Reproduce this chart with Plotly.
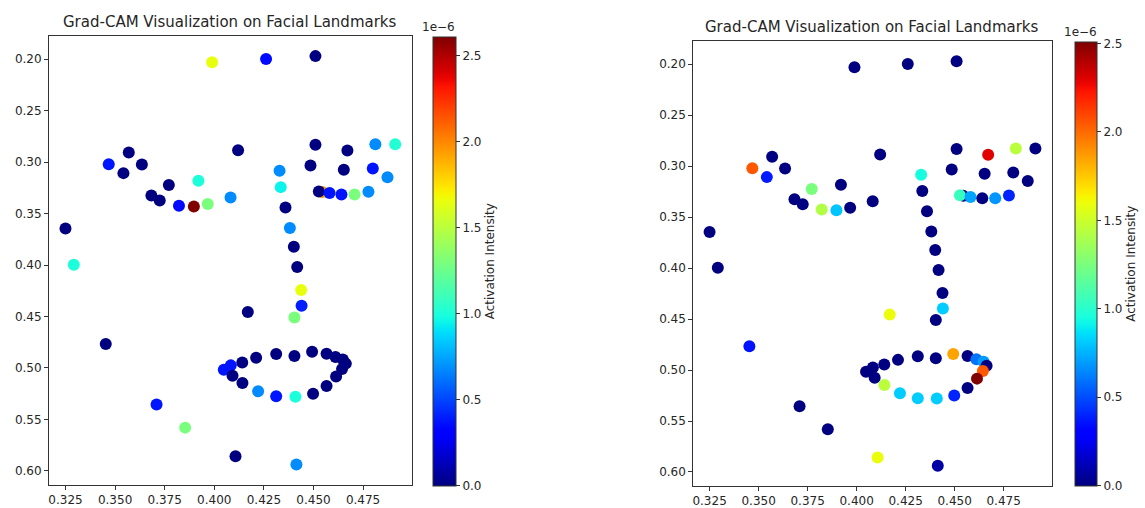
import numpy as np
import plotly.graph_objects as go

# ---- data (landmark positions, normalized) ----
landmark_x = [0.3989, 0.4261, 0.4510, 0.3468, 0.3569, 0.3635, 0.3542, 0.3771, 0.3683, 0.3725,
              0.3822, 0.3897, 0.3967, 0.3920, 0.4082, 0.4120, 0.4329, 0.4335, 0.4359, 0.4381,
              0.4401, 0.4510, 0.4485, 0.4671, 0.4653, 0.4812, 0.4912, 0.4799, 0.4873, 0.4544,
              0.4527, 0.4581, 0.4641, 0.4707, 0.4777, 0.3250, 0.3292, 0.4418, 0.4438, 0.4440,
              0.4404, 0.4169, 0.3453, 0.3709, 0.3853, 0.4107, 0.4414, 0.4048, 0.4083, 0.4141,
              0.4211, 0.4312, 0.4404, 0.4493, 0.4566, 0.4611, 0.4648, 0.4663, 0.4644, 0.4614,
              0.4566, 0.4498, 0.4409, 0.4312, 0.4221, 0.4142, 0.4092]
landmark_y = [0.2029, 0.1997, 0.1970, 0.3020, 0.2907, 0.3023, 0.3107, 0.3223, 0.3324, 0.3373,
              0.3424, 0.3431, 0.3408, 0.3182, 0.3343, 0.2884, 0.3084, 0.3243, 0.3441, 0.3641,
              0.3822, 0.2832, 0.3033, 0.2887, 0.3075, 0.2826, 0.2826, 0.3062, 0.3146, 0.3291,
              0.3285, 0.3301, 0.3315, 0.3315, 0.3288, 0.3645, 0.3997, 0.4019, 0.4243, 0.4395,
              0.4509, 0.4456, 0.4767, 0.5356, 0.5580, 0.5858, 0.5939, 0.5017, 0.4975, 0.4946,
              0.4900, 0.4864, 0.4884, 0.4842, 0.4861, 0.4893, 0.4919, 0.4958, 0.5010, 0.5084,
              0.5175, 0.5250, 0.5279, 0.5276, 0.5227, 0.5146, 0.5075]

# activation intensity, in units of 1e-6
activation_left = [1.65, 0.35, 0.0, 0.38, 0.0, 0.0, 0.0, 0.0, 0.0, 0.0,
                   0.35, 2.61, 1.30, 1.00, 0.68, 0.0, 0.68, 0.95, 0.0, 0.68,
                   0.0, 0.0, 0.0, 0.0, 0.0, 0.68, 1.02, 0.38, 0.68, 1.95,
                   0.0, 0.38, 0.38, 1.30, 0.68, 0.0, 1.00, 0.0, 1.65, 0.40,
                   1.30, 0.0, 0.0, 0.38, 1.30, 0.0, 0.68, 0.38, 0.38, 0.0,
                   0.0, 0.0, 0.0, 0.0, 0.0, 0.0, 0.0, 0.0, 0.0, 0.0,
                   0.0, 0.0, 1.00, 0.38, 0.68, 0.0, 0.0]
activation_right = [0.0, 0.0, 0.0, 2.05, 0.0, 0.0, 0.38, 1.25, 0.0, 0.0,
                    1.42, 0.80, 0.0, 0.0, 0.0, 0.0, 0.95, 0.0, 0.0, 0.0,
                    0.0, 0.0, 0.0, 2.30, 0.0, 1.45, 0.0, 0.0, 0.0, 0.0,
                    1.05, 0.72, 0.0, 0.68, 0.40, 0.0, 0.0, 0.0, 0.0, 0.82,
                    0.0, 1.60, 0.36, 0.0, 0.0, 1.60, 0.08, 0.0, 0.0, 0.0,
                    0.0, 0.0, 0.0, 1.85, 0.0, 0.60, 0.70, 0.0, 2.05, 2.51,
                    0.0, 0.40, 0.82, 0.82, 0.82, 1.45, 0.0]

cbar_ticks = [0.0, 0.5, 1.0, 1.5, 2.0, 2.5]
title_text = "Grad-CAM Visualization on Facial Landmarks"
cbar_title = "Activation Intensity"

# ---- matplotlib 'jet' colorscale ----
def jet_scale(n=64):
    t = np.linspace(0, 1, n)
    r = np.interp(t, [0, 0.35, 0.66, 0.89, 1], [0, 0, 1, 1, 0.5])
    g = np.interp(t, [0, 0.125, 0.375, 0.64, 0.91, 1], [0, 0, 1, 1, 0, 0])
    b = np.interp(t, [0, 0.11, 0.34, 0.65, 1], [0.5, 1, 1, 0, 0])
    return [[float(tt), "rgb(%d,%d,%d)" % (round(rr * 255), round(gg * 255), round(bb * 255))]
            for tt, rr, gg, bb in zip(t, r, g, b)]

JET = jet_scale()
W, H = 1145, 508
FONT = "DejaVu Sans"
TXT = "#262626"
FS = 12

def px_x(p):
    return p / W

def px_y(p):
    return 1 - p / H

# data-limits with matplotlib-like 5% margins
def padded(vals):
    lo, hi = min(vals), max(vals)
    m = (hi - lo) * 0.05
    return lo - m, hi + m

xr = padded(landmark_x)
yr = padded(landmark_y)

panels = [
    dict(vals=activation_left, dom_x=(49, 411.7), dom_y=(35.7, 485), cb_x=433.3, cb_th=23,
         cb_top=36.7, cb_bot=485.7, title_y=22, off_y=27, off_x=438),
    dict(vals=activation_right, dom_x=(693.3, 1051.7), dom_y=(41, 486), cb_x=1075, cb_th=22,
         cb_top=41.7, cb_bot=485.7, title_y=27, off_y=32, off_x=1080),
]

fig = go.Figure()
annotations = []
for i, p in enumerate(panels):
    ax = "" if i == 0 else str(i + 1)
    cb_len = (p["cb_bot"] - p["cb_top"]) / H
    cb_y = px_y((p["cb_top"] + p["cb_bot"]) / 2)
    fig.add_trace(go.Scatter(
        x=landmark_x, y=landmark_y, mode="markers",
        xaxis="x" + ax, yaxis="y" + ax,
        marker=dict(size=12, color=p["vals"], colorscale=JET, cmin=0, cmax=max(p["vals"]),
                    line=dict(width=0), showscale=True,
                    colorbar=dict(x=px_x(p["cb_x"]), xanchor="left", xpad=0, ypad=0,
                                  y=cb_y, yanchor="middle", len=cb_len, lenmode="fraction",
                                  thickness=p["cb_th"], thicknessmode="pixels",
                                  outlinewidth=1, outlinecolor="#333",
                                  tickvals=cbar_ticks, tickformat=".1f",
                                  ticks="outside", ticklen=4, tickcolor="#333",
                                  tickfont=dict(family=FONT, size=FS, color=TXT),
                                  title=dict(text=cbar_title, side="right",
                                             font=dict(family=FONT, size=FS, color=TXT)))),
        showlegend=False, hoverinfo="x+y"))
    xa = dict(domain=[px_x(p["dom_x"][0]), px_x(p["dom_x"][1])], range=list(xr),
              anchor="y" + ax, tick0=0.325, dtick=0.025, tickformat=".3f",
              showgrid=False, zeroline=False, showline=True, mirror=True,
              linecolor="#333", linewidth=1, ticks="outside", ticklen=4, tickcolor="#333",
              tickfont=dict(family=FONT, size=FS, color=TXT))
    ya = dict(domain=[px_y(p["dom_y"][1]), px_y(p["dom_y"][0])], range=[yr[1], yr[0]],
              anchor="x" + ax, tick0=0.2, dtick=0.05, tickformat=".2f",
              showgrid=False, zeroline=False, showline=True, mirror=True,
              linecolor="#333", linewidth=1, ticks="outside", ticklen=4, tickcolor="#333",
              tickfont=dict(family=FONT, size=FS, color=TXT))
    fig.update_layout(**{"xaxis" + ax: xa, "yaxis" + ax: ya})
    annotations.append(dict(text=title_text, xref="paper", yref="paper",
                            x=px_x((p["dom_x"][0] + p["dom_x"][1]) / 2), y=px_y(p["title_y"]),
                            xanchor="center", yanchor="middle", showarrow=False,
                            font=dict(family=FONT, size=15, color=TXT)))
    annotations.append(dict(text="1e\u22126", xref="paper", yref="paper",
                            x=px_x(p["off_x"]), y=px_y(p["off_y"]),
                            xanchor="center", yanchor="middle", showarrow=False,
                            font=dict(family=FONT, size=FS, color=TXT)))

fig.update_layout(width=W, height=H, margin=dict(l=0, r=0, t=0, b=0),
                  paper_bgcolor="white", plot_bgcolor="white",
                  annotations=annotations, font=dict(family=FONT, color=TXT))

fig.write_html("out.html", config={"displayModeBar": False},
               post_script="document.body.style.margin='0';document.body.style.overflow='hidden';")
